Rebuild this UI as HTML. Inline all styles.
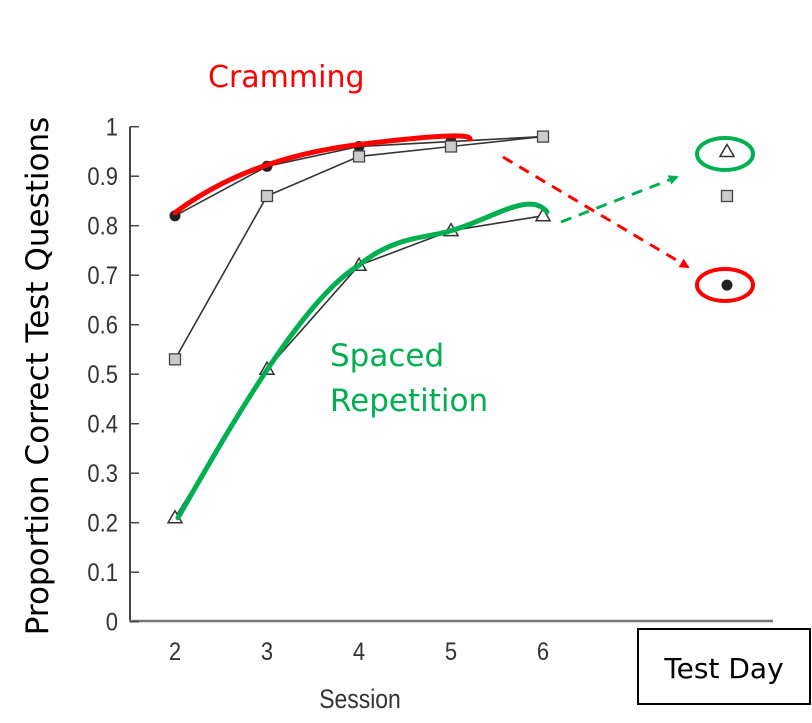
<!DOCTYPE html>
<html><head><meta charset="utf-8"><style>
body{margin:0;background:#fff}
svg text{font-family:"Liberation Sans",sans-serif}
</style></head><body>
<svg id="c" width="812" height="718" viewBox="0 0 812 718">
<defs>
<marker id="ar" markerWidth="10" markerHeight="10" refX="8" refY="5" orient="auto" markerUnits="userSpaceOnUse"><path d="M0,0 L10,5 L0,10z" fill="#f00"/></marker>
<marker id="ag" markerWidth="10" markerHeight="10" refX="8" refY="5" orient="auto" markerUnits="userSpaceOnUse"><path d="M0,0 L10,5 L0,10z" fill="#00b050"/></marker>
</defs>
<g id="axes"></g><g id="marks"></g>
<text x="208" y="87" font-size="30" fill="#f00" style="font-family:'DejaVu Sans',sans-serif">Cramming</text>
<text x="330" y="366" font-size="31" fill="#00b050" style="font-family:'DejaVu Sans',sans-serif">Spaced</text>
<text x="330" y="411" font-size="31" fill="#00b050" style="font-family:'DejaVu Sans',sans-serif">Repetition</text>
<text transform="translate(48,376) rotate(-90)" text-anchor="middle" font-size="31" fill="#000" style="font-family:'DejaVu Sans',sans-serif">Proportion Correct Test Questions</text>
<text x="0" y="0" text-anchor="middle" font-size="27" fill="#333" transform="translate(360,708) scale(0.85,1)">Session</text>
<rect x="638" y="629" width="172" height="75" fill="none" stroke="#000" stroke-width="2"/>
<text x="724" y="678" text-anchor="middle" font-size="28" fill="#000" style="font-family:'DejaVu Sans',sans-serif">Test Day</text>
</svg>
<script>
const sessions=[2,3,4,5,6];
const tickVals=[0,0.1,0.2,0.3,0.4,0.5,0.6,0.7,0.8,0.9,1];
const tickLabels=["0","0.1","0.2","0.3","0.4","0.5","0.6","0.7","0.8","0.9","1"];
const circles=[0.82,0.92,0.96,0.97,0.98];
const squares=[0.53,0.86,0.94,0.96,0.98];
const triangles=[0.21,0.51,0.72,0.79,0.82];
const testDay={triangle:0.95,square:0.86,circle:0.68};
const X=s=>175+(s-2)*92, Y=v=>621.7-v*495, XT=727;
const NS="http://www.w3.org/2000/svg";
function mk(t,a,p){const e=document.createElementNS(NS,t);for(const k in a)e.setAttribute(k,a[k]);p.appendChild(e);return e;}
const ax=document.getElementById('axes'),mg=document.getElementById('marks');
let e=mk('line',{x1:130,y1:Y(1),x2:130,y2:621,stroke:'#444','stroke-width':2},ax);


e=mk('line',{x1:129,y1:621,x2:773,y2:621,stroke:'#777','stroke-width':2.5},ax);


tickVals.forEach((v,i)=>{
 let t=mk('line',{x1:130,x2:139,y1:Y(v),y2:Y(v),stroke:'#444','stroke-width':1.5},ax);
 
 
 let l=mk('text',{x:0,y:0,'text-anchor':'end','font-size':25,fill:'#333',transform:`translate(118,${Y(v)+9}) scale(0.88,1)`},ax);l.textContent=tickLabels[i];
 
 
});
sessions.forEach(s=>{let l=mk('text',{x:0,y:0,'text-anchor':'middle','font-size':25,fill:'#333',transform:`translate(${X(s)},660) scale(0.88,1)`},ax);l.textContent=s;
 
 });
function line(vals,name){const p=mk('polyline',{points:vals.map((v,i)=>X(sessions[i])+','+Y(v)).join(' '),fill:'none',stroke:'#333','stroke-width':1.6},mg);
 
 }
line(circles,'cramming-line');line(squares,'square-line');line(triangles,'triangle-line');
function sq(x,y){const r=mk('rect',{x:x-5.5,y:y-5.5,width:11,height:11,fill:'#ccc',stroke:'#444','stroke-width':1.3},mg);
 
 }
function ci(x,y){const c=mk('circle',{cx:x,cy:y,r:5.5,fill:'#222'},mg);
 
 }
function tr(x,y){const p=mk('path',{d:`M${x},${y-7} L${x+7},${y+5} L${x-7},${y+5}z`,fill:'#fff',stroke:'#333','stroke-width':1.5},mg);
 
 }
circles.forEach((v,i)=>ci(X(sessions[i]),Y(v)));
squares.forEach((v,i)=>sq(X(sessions[i]),Y(v)));
triangles.forEach((v,i)=>tr(X(sessions[i]),Y(v)));
tr(XT,Y(testDay.triangle));sq(XT,Y(testDay.square));ci(XT,Y(testDay.circle));
const hs=[
 ['path',{d:`M${X(2)},${Y(circles[0])-3} Q${X(3)-20},${Y(circles[1])-8} ${X(4)},${Y(circles[2])-2} T470,${Y(0.975)}`,fill:'none',stroke:'#f00','stroke-width':5,'stroke-linecap':'round'},'cramming-highlight'],
 ['path',{d:`M${X(2)+3},${Y(triangles[0])} C220,445 300,300 ${X(4)},${Y(triangles[2])} C395,235 430,238 ${X(5)},${Y(triangles[3])} C490,220 530,190 547,212`,fill:'none',stroke:'#00b050','stroke-width':5,'stroke-linecap':'round'},'spaced-highlight'],
 ['ellipse',{cx:725,cy:154,rx:28,ry:16,fill:'none',stroke:'#00b050','stroke-width':4},'test-triangle-ring'],
 ['ellipse',{cx:725,cy:285,rx:28,ry:16,fill:'none',stroke:'#f00','stroke-width':4},'test-circle-ring'],
 ['line',{x1:503,y1:157,x2:688,y2:267,stroke:'#f00','stroke-width':3,'stroke-dasharray':'11 8','marker-end':'url(#ar)'},'cramming-arrow'],
 ['line',{x1:561,y1:222,x2:677,y2:177,stroke:'#00b050','stroke-width':3,'stroke-dasharray':'11 8','marker-end':'url(#ag)'},'spaced-arrow']
];
hs.forEach(h=>{const el=mk(h[0],h[1],mg);
 
 });
</script>
</body></html>
